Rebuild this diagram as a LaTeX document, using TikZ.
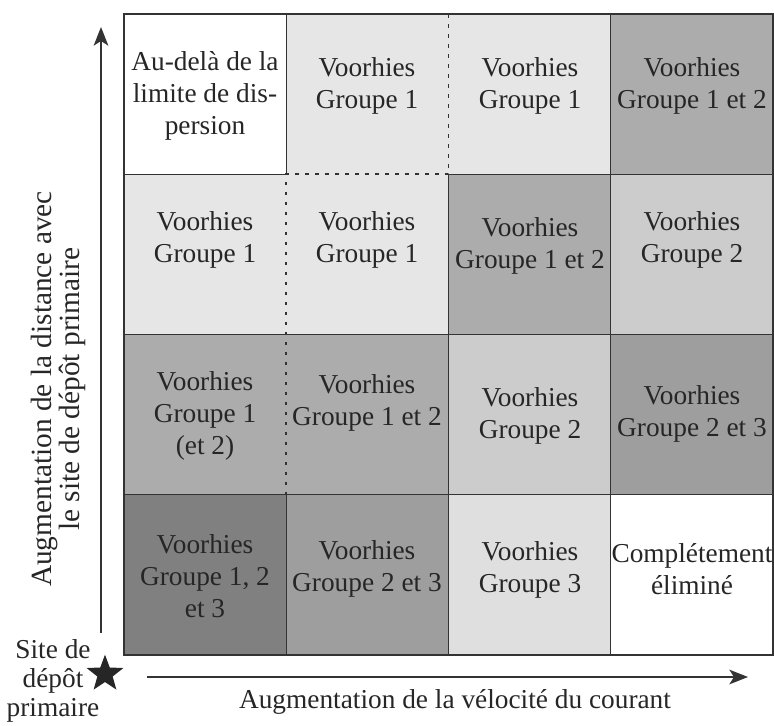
\documentclass[tikz,border=0pt]{standalone}
\usepackage{fontspec}
\setmainfont{Liberation Serif}
\usetikzlibrary{arrows.meta,shapes.geometric}
\definecolor{grisA}{HTML}{E6E6E6}
\definecolor{grisB}{HTML}{CCCCCC}
\definecolor{grisC}{HTML}{ACACAC}
\definecolor{grisD}{HTML}{9E9E9E}
\definecolor{grisE}{HTML}{808080}
\definecolor{grisF}{HTML}{E0DFE0}
\definecolor{trait}{HTML}{333333}
\tikzset{
  cellline/.style={draw=trait, line width=1.1pt},
  celldash/.style={draw=trait, line width=1.4pt, dash pattern=on 2.8pt off 4.7pt},
  celltext/.style={align=center, text=black!85, inner sep=0pt,
    font=\fontsize{20.5}{24}\selectfont},
  axis/.style={draw=trait, line width=1.2pt, -{Stealth[length=14pt,width=11pt,inset=3.5pt]}},
}
\begin{document}
\begin{tikzpicture}[x=0.75pt,y=-0.75pt]
\useasboundingbox (0,0) rectangle (774,725);
% fonds des cases
\foreach \xa/\ya/\col in {124/14/white, 286.25/14/grisA, 448.5/14/grisA, 610.75/14/grisC,
  124/174.25/grisA, 286.25/174.25/grisA, 448.5/174.25/grisC, 610.75/174.25/grisB,
  124/334.5/grisC, 286.25/334.5/grisC, 448.5/334.5/grisB, 610.75/334.5/grisD,
  124/494.75/grisE, 286.25/494.75/grisD, 448.5/494.75/grisF, 610.75/494.75/white} {
  \fill[\col] (\xa,\ya) rectangle ++(162.25,160.25);
}
% traits pleins
\draw[cellline] (124,14) rectangle (773,655);
\draw[cellline] (286.25,14) -- (286.25,174.25);
\draw[cellline] (286.25,494.75) -- (286.25,655);
\draw[cellline] (448.5,174.25) -- (448.5,655);
\draw[cellline] (610.75,14) -- (610.75,655);
\draw[cellline] (124,174.25) -- (286.25,174.25);
\draw[cellline] (448.5,174.25) -- (773,174.25);
\foreach \y in {334.5,494.75} {
  \draw[cellline] (124,\y) -- (773,\y);
}
% traits pointilles
\draw[celldash] (448.5,14) -- (448.5,174.25) -- (286.25,174.25) -- (286.25,494.75);
% textes des cases
\foreach \n/\x/\y/\txt in {
  t00/205/96/{Au-delà de la\\limite de dis-\\persion},
  t10/367/86/{Voorhies\\Groupe 1},
  t20/530/86/{Voorhies\\Groupe 1},
  t30/692/86/{Voorhies\\Groupe 1 et 2},
  t01/205/240/{Voorhies\\Groupe 1},
  t11/367/240/{Voorhies\\Groupe 1},
  t21/530/246/{Voorhies\\Groupe 1 et 2},
  t31/692/240/{Voorhies\\Groupe 2},
  t02/205/416/{Voorhies\\Groupe 1\\(et 2)},
  t12/367/403/{Voorhies\\Groupe 1 et 2},
  t22/530/416/{Voorhies\\Groupe 2},
  t32/692/414/{Voorhies\\Groupe 2 et 3},
  t03/205/576/{Voorhies\\Groupe 1, 2\\et 3},
  t13/367/569/{Voorhies\\Groupe 2 et 3},
  t23/530/570/{Voorhies\\Groupe 3},
  t33/692/569/{Complétement\\éliminé}} {
  \node[celltext] (\n) at (\x,\y) {\txt};
}
% axes
\coordinate (ybas) at (101,633);
\coordinate (yhaut) at (101,27);
\coordinate (xgauche) at (147,677);
\coordinate (xdroite) at (748,677);
\draw[axis] (ybas) -- (yhaut);
\draw[axis] (xgauche) -- (xdroite);
\node[celltext, rotate=90, font=\fontsize{22}{21}\selectfont] (ylab) at (58,389) {Augmentation de la distance avec\\le site de dépôt primaire};
\node[celltext] (xlab) at (455,702) {Augmentation de la vélocité du courant};
\node[star, star points=5, star point ratio=2.4, fill=black!85, minimum size=29pt, inner sep=0pt] (site) at (105,674) {};
\node[celltext, font=\fontsize{20.5}{22}\selectfont] (sitelab) at (53,681) {Site de\\dépôt\\primaire};
\end{tikzpicture}
\end{document}
